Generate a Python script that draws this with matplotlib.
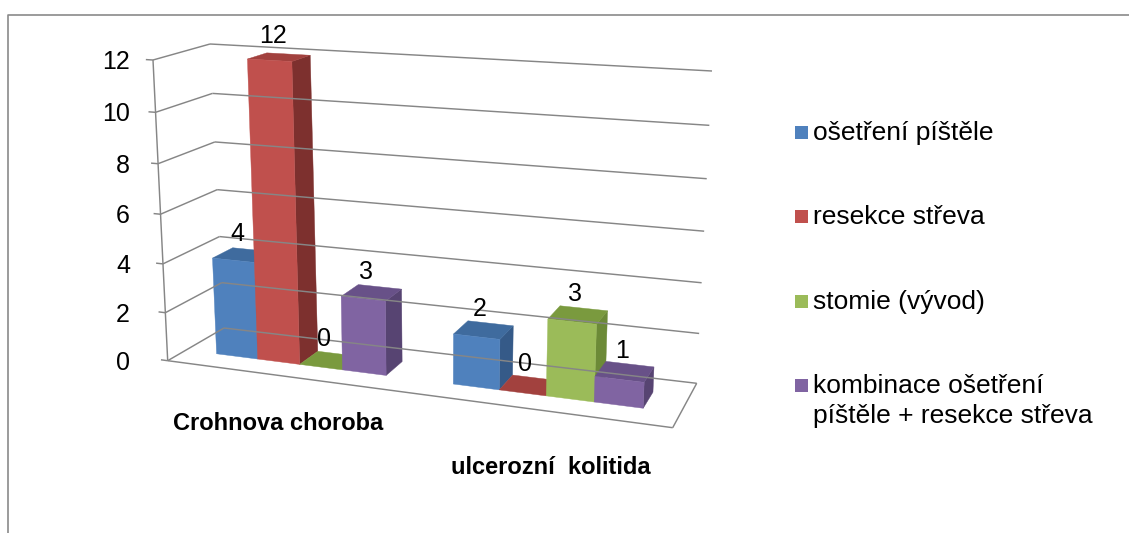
import numpy as np
import matplotlib
matplotlib.use('Agg')
import matplotlib.pyplot as plt
from matplotlib.patches import Polygon, Rectangle

plt.rcParams['font.family'] = ['Liberation Sans', 'DejaVu Sans']

# Data
categories = ['Crohnova choroba', 'ulcerozní  kolitida']
series_names = ['ošetření píštěle', 'resekce střeva', 'stomie (vývod)',
                'kombinace ošetření\npíštěle + resekce střeva']
osetreni_pistele = [4, 2]
resekce_streva = [12, 0]
stomie_vyvod = [0, 3]
kombinace = [3, 1]
y_ticks = [0, 2, 4, 6, 8, 10, 12]

series_values = [osetreni_pistele, resekce_streva, stomie_vyvod, kombinace]

# front / top / side shades per series (Excel 2007 theme)
bar_colors = [
    ('#4F81BD', '#3F6B9E', '#355A88'),
    ('#C0504D', '#A2413E', '#7D302E'),
    ('#9BBB59', '#7A9A3E', '#6C8A37'),
    ('#8064A2', '#685188', '#574472'),
]
grid_color = '#868686'

# 3D box: X = categories, Y = depth, Z = values
W = len(categories)
D = 1.0
Z_MAX = max(y_ticks)
GAP_WIDTH = 1.5
BAR_Y0, BAR_Y1 = 0.33, 0.70
X_PERSP, Z_PERSP = 1.12, 1.053

# screen position of the box corners [x][y][z] (pixels)
BOX = {
    (0, 0, 0): (167.7, 360.7), (0, 0, 1): (153.0, 60.0),
    (0, 1, 0): (224.0, 328.0), (0, 1, 1): (210.0, 44.0),
    (1, 0, 0): (672.7, 427.7), (1, 0, 1): (687.0, 91.0),
    (1, 1, 0): (696.7, 383.3), (1, 1, 1): (712.0, 71.0),
}


def warp(t, r):
    return t / (t + (1 - t) * r)


def proj(X, Y, Z):
    s = warp(X / W, X_PERSP)
    h = warp(Z / Z_MAX, Z_PERSP)
    d = Y / D
    p = np.zeros(2)
    for i, wi in ((0, 1 - s), (1, s)):
        for j, wj in ((0, 1 - d), (1, d)):
            for k, wk in ((0, 1 - h), (1, h)):
                p += wi * wj * wk * np.array(BOX[(i, j, k)])
    return p


def seg(ax, a, b, **kw):
    pa, pb = proj(*a), proj(*b)
    ax.plot([pa[0], pb[0]], [pa[1], pb[1]], color=grid_color, lw=1.05,
            solid_capstyle='butt', **kw)


def face(ax, pts, color):
    xy = [proj(*p) for p in pts]
    ax.add_patch(Polygon(xy, closed=True, facecolor=color, edgecolor=color,
                         lw=0.3))


fig = plt.figure(figsize=(11.29, 5.33), dpi=100)
ax = fig.add_axes([0, 0, 1, 1])
ax.set_xlim(0, 1129)
ax.set_ylim(533, 0)
ax.axis('off')

# chart area border (only left and top visible)
ax.plot([8, 8, 1129], [533, 15, 15], color='#8A8A8A', lw=1.2)

# walls: back and side gridlines
for z in y_ticks:
    seg(ax, (0, D, z), (W, D, z))
    seg(ax, (0, 0, z), (0, D, z))
# floor front and right edge
seg(ax, (0, 0, 0), (W, 0, 0))
seg(ax, (W, 0, 0), (W, D, 0))
# value axis + ticks
seg(ax, (0, 0, 0), (0, 0, Z_MAX))
for z in y_ticks:
    seg(ax, (-0.03, 0, z), (0, 0, z))
    py = proj(0, 0, z)[1]
    ax.text(130, py + 9, str(z), ha='right', va='baseline', fontsize=18)

# bars
bar_w = 1.0 / (len(series_values) + GAP_WIDTH)
for i in range(W):
    for j, vals in enumerate(series_values):
        v = vals[i]
        x0 = i + GAP_WIDTH * bar_w / 2 + j * bar_w
        x1 = x0 + bar_w
        y0, y1 = BAR_Y0, BAR_Y1
        front, top, side = bar_colors[j]
        if v > 0:
            face(ax, [(x1, y0, 0), (x1, y1, 0), (x1, y1, v), (x1, y0, v)], side)
        face(ax, [(x0, y0, v), (x1, y0, v), (x1, y1, v), (x0, y1, v)], top)
        if v > 0:
            face(ax, [(x0, y0, 0), (x1, y0, 0), (x1, y0, v), (x0, y0, v)], front)
        xc = (x0 + x1) / 2
        lx = proj(xc, y0 + 0.05, v)[0]
        ly = proj(xc, (y0 + y1) / 2, v)[1]
        ax.text(lx + 1, ly - 14, str(v), ha='center', va='baseline', fontsize=18)

# category labels (staggered as in the original)
cat_offsets = [(-5, 54), (15, 65)]
for i, name in enumerate(categories):
    px, py = proj(i + 0.5, 0, 0)
    dx, dy = cat_offsets[i]
    ax.text(px + dx, py + dy, name, ha='center', va='baseline',
            fontsize=17, fontweight='bold')

# legend
LEG_X, LEG_TEXT_X = 794.5, 813
LEG_Y0, LEG_STEP, LINE_STEP = 140, 84.4, 30
for j, name in enumerate(series_names):
    base = LEG_Y0 + j * LEG_STEP
    ax.add_patch(Rectangle((LEG_X, base - 7.6 - 6.5), 13, 13,
                           facecolor=bar_colors[j][0], edgecolor='none'))
    for k, line in enumerate(name.split('\n')):
        ax.text(LEG_TEXT_X, base + k * LINE_STEP, line, ha='left',
                va='baseline', fontsize=19)

fig.savefig('out.png', dpi=100)
